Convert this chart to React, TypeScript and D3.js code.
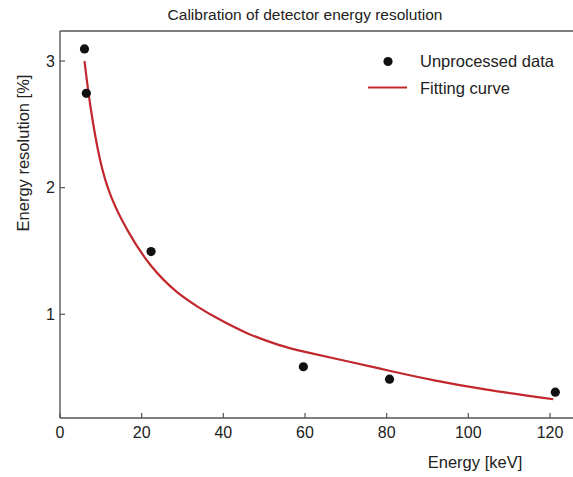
import React from "react";
import * as d3 from "d3";

const title = "Calibration of detector energy resolution";
const xLabel = "Energy [keV]";
const yLabel = "Energy resolution [%]";
const xTicks = [0, 20, 40, 60, 80, 100, 120];
const yTicks = [1, 2, 3];

// Unprocessed data (energy keV, resolution %)
const dataEnergy = [6.0, 6.45, 22.3, 59.6, 80.7, 121.3];
const dataResolution = [3.095, 2.745, 1.495, 0.586, 0.488, 0.385];

// Fitting curve
const fitEnergy = [6.0, 7.35, 9.8, 12.25, 16.3, 22.0, 28.6, 34.3, 37.5, 45.7, 53.9, 58.8, 71.0, 80.8, 91.4, 103.7, 120.8];
const fitResolution = [3.0, 2.64, 2.19, 1.93, 1.665, 1.376, 1.166, 1.048, 0.985, 0.845, 0.752, 0.71, 0.625, 0.553, 0.478, 0.406, 0.329];

const legendLabels = ["Unprocessed data", "Fitting curve"];

export default function App() {
  const W = 573, H = 477;
  const left = 60, top = 31, bottom = 418, right = 573;
  const x = d3.scaleLinear().domain([0, 120]).range([60, 550]);
  const y = d3.scaleLinear().domain([1, 3]).range([314.3, 61]);
  const fit = fitEnergy.map((e, i) => [e, fitResolution[i]] as [number, number]);
  const line = d3
    .line<[number, number]>()
    .x((d) => x(d[0]))
    .y((d) => y(d[1]))
    .curve(d3.curveBasis);
  const axisColor = "#555";
  const textColor = "#222";
  const font = "'Liberation Sans', Arial, Helvetica, sans-serif";
  const red = "#c1272d";

  return (
    <svg
      width={W}
      height={H}
      style={{ position: "absolute", left: 0, top: 0, background: "#fff" }}
      fontFamily={font}
    >
      <rect x={0} y={0} width={W} height={H} fill="#fff" />
      <text x={305} y={20} textAnchor="middle" fontSize={15.5} fill={textColor}>
        {title}
      </text>
      {/* frame */}
      <line x1={left} x2={right} y1={top} y2={top} stroke={axisColor} strokeWidth={1.4} />
      <line x1={left} x2={left} y1={top} y2={bottom} stroke={axisColor} strokeWidth={1.4} />
      <line x1={left} x2={right} y1={bottom} y2={bottom} stroke={axisColor} strokeWidth={1.4} />
      {/* x ticks */}
      {xTicks.map((t) => (
        <g key={"x" + t}>
          <line x1={x(t)} x2={x(t)} y1={bottom} y2={bottom - 5} stroke={axisColor} strokeWidth={1.2} />
          <text x={x(t)} y={438} textAnchor="middle" fontSize={16} fill={textColor}>
            {t}
          </text>
        </g>
      ))}
      {/* y ticks */}
      {yTicks.map((t) => (
        <g key={"y" + t}>
          <line x1={left} x2={left + 5} y1={y(t)} y2={y(t)} stroke={axisColor} strokeWidth={1.2} />
          <text x={55} y={y(t) + 5.5} textAnchor="end" fontSize={16} fill={textColor}>
            {t}
          </text>
        </g>
      ))}
      <text x={475} y={468} textAnchor="middle" fontSize={16.5} fill={textColor}>
        {xLabel}
      </text>
      <text
        transform="translate(29,153) rotate(-90)"
        textAnchor="middle"
        fontSize={16.5}
        fill={textColor}
      >
        {yLabel}
      </text>
      {/* fitting curve */}
      <path d={line(fit) || ""} fill="none" stroke={red} strokeWidth={2.2} />
      {/* data points */}
      {dataEnergy.map((e, i) => (
        <circle key={"p" + i} cx={x(e)} cy={y(dataResolution[i])} r={4.6} fill="#111" />
      ))}
      {/* legend */}
      <circle cx={388} cy={61.5} r={4.6} fill="#111" />
      <text x={420} y={67} fontSize={16.5} fill={textColor}>
        {legendLabels[0]}
      </text>
      <line x1={368} x2={407} y1={87.5} y2={87.5} stroke={red} strokeWidth={2.2} />
      <text x={420} y={94} fontSize={16.5} fill={textColor}>
        {legendLabels[1]}
      </text>
    </svg>
  );
}
